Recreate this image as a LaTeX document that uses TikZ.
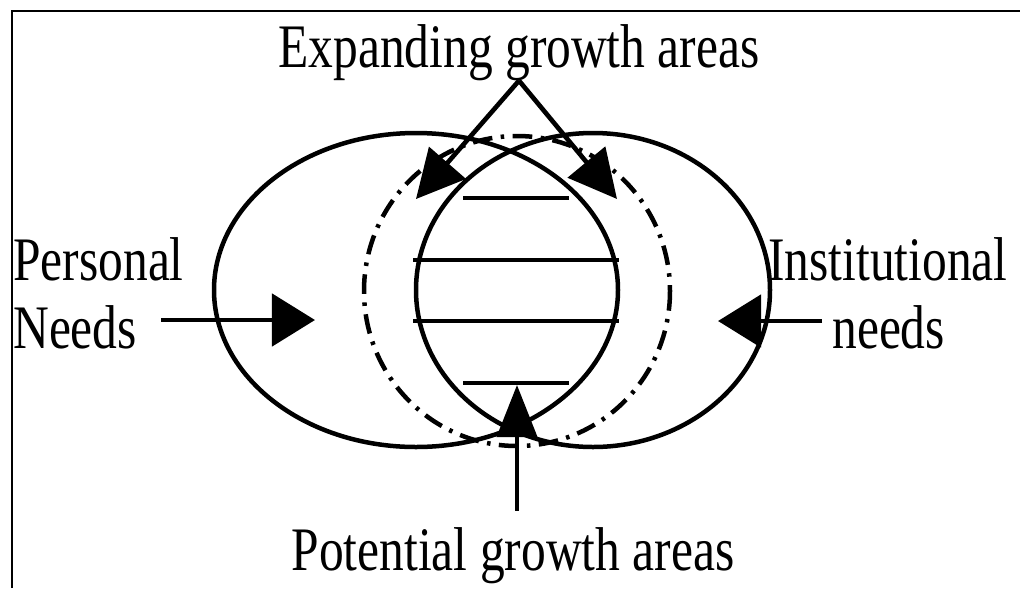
\documentclass[tikz,border=0pt]{standalone}
\usepackage{fontspec}
\setmainfont{Liberation Serif}[FakeStretch=0.8]
\usetikzlibrary{arrows.meta}

\begin{document}
\begin{tikzpicture}[
  x=0.025cm, y=-0.025cm,
  txt/.style={font=\fontsize{44}{50}\selectfont, inner sep=0pt},
  ring/.style={line width=3.2pt},
  rung/.style={line width=3.5pt},
  arr/.style={line width=3.3pt, -{Triangle[length=1.2cm,width=1.2cm]}},
  sidearr/.style={line width=3.5pt, -{Triangle[length=1.075cm,width=1.3cm]}},
  uparr/.style={line width=2.8pt, -{Triangle[length=1.3cm,width=1cm]}}
]
\useasboundingbox (0,0) rectangle (1020,588);
\draw[line width=0.8pt] (12,588) -- (12,11) -- (1020,11);

\draw[ring] (416,290) ellipse [x radius=202, y radius=157];
\draw[ring] (593,290) ellipse [x radius=177, y radius=157];
\draw[ring, dash pattern=on 14pt off 6pt on 2.5pt off 6pt] (517,291) ellipse [x radius=153, y radius=155];
\foreach \y/\a/\b in {198/463/569, 260/413/619, 321/413/619, 383/463/569}
  \draw[rung] (\a,\y) -- (\b,\y);

\node[txt, anchor=base] (expanding) at (519,67) {Expanding growth areas};
\node[txt, anchor=base] (potential) at (513,570) {Potential growth areas};
\node[txt, anchor=base west] (personal) at (13,280) {Personal};
\node[txt, anchor=base west] (needsL) at (13,348) {Needs};
\node[txt, anchor=base west] (institutional) at (768,280) {Institutional};
\node[txt, anchor=base west] (needsR) at (832,348) {needs};

\coordinate (tipL) at (416,199);
\coordinate (tipR) at (617,199);
\coordinate (tipP) at (315,320);
\coordinate (tipI) at (718,321);
\coordinate (tipB) at (517,385);

\draw[arr] (expanding.south) -- (tipL);
\draw[arr] (expanding.south) -- (tipR);
\draw[sidearr, shorten <=0.6cm] (needsL.east |- tipP) -- (tipP);
\draw[sidearr, shorten <=0.25cm] (needsR.west |- tipI) -- (tipI);
\draw[uparr, shorten <=0.4cm] (tipB |- potential.north) -- (tipB);
\end{tikzpicture}
\end{document}
